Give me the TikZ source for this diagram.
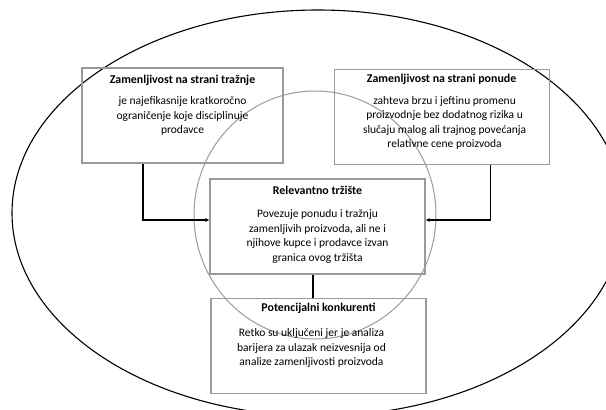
\documentclass[tikz,border=0pt]{standalone}
\usepackage{fontspec}
\setmainfont{Carlito}
\usetikzlibrary{arrows.meta,positioning,calc}
\definecolor{boxgray}{HTML}{9A9A9A}
\tikzset{
    semithick,
    box/.style ={draw=boxgray, line width=1.1pt, minimum width=215pt, minimum height=95pt, inner sep=0pt},
    ttl/.style ={font=\bfseries\fontsize{11.9}{13}\selectfont, anchor=base, inner sep=0pt},
    txt/.style ={font=\fontsize{11.5}{14.6}\selectfont, align=center, anchor=north, inner sep=0pt},
    conn/.style={line width=1.2pt, -{Latex[length=4pt,width=4pt]}}
}

\begin{document}
\begin{tikzpicture}[x=1pt,y=-1pt]
    \useasboundingbox (0,0) rectangle (606,410);
    \clip (0,0) rectangle (606,410);
    % outer market and relevant market
    \draw[line width=1.1pt] (318,213) ellipse [x radius=306, y radius=203];
    \draw[boxgray, line width=1pt] (315,215) ellipse [x radius=121, y radius=124];

    \node[box, minimum width=201pt] (trz) at (182.5,115.5) {};
    \node[box] (pon) [right =50pt of trz, yshift=-1.5pt] {};
    \node[box] (rel) at (317.5,226.5) {};
    \node[box] (pot) [below =23pt of rel, xshift=1pt] {};

    \node[ttl] (trzT) at ($(trz.north)+(0,16)$) {Zamenljivost na strani tražnje};
    \node[txt] (trzB) at ($(trzT.base)+(0,13)$) {je najefikasnije kratkoročno\\ograničenje koje disciplinuje\\prodavce};
    \node[ttl] (ponT) at ($(pon.north)+(0,14)$) {Zamenljivost na strani ponude};
    \node[txt] (ponB) at ($(ponT.base)+(3,13)$) {zahteva brzu i jeftinu promenu\\proizvodnje bez dodatnog rizika u\\slučaju malog ali trajnog povećanja\\relativne cene proizvoda};
    \node[ttl] (relT) at ($(rel.north)+(0,16)$) {Relevantno tržište};
    \node[txt] (relB) at ($(relT.base)+(0,15)$) {Povezuje ponudu i tražnju\\zamenljivih proizvoda, ali ne i\\njihove kupce i prodavce izvan\\granica ovog tržišta};
    \node[ttl] (potT) at ($(pot.north)+(0,14)$) {Potencijalni konkurenti};
    \node[txt] (potB) at ($(potT.base)+(-7,17)$) {Retko su uključeni jer je analiza\\barijera za ulazak neizvesnija od\\analize zamenljivosti proizvoda};

    \draw[conn] ([xshift=-39.5pt]trz.south) |- ([yshift=6.5pt]rel.west);
    \draw[conn] ([xshift=48.5pt]pon.south) |- ([yshift=6.5pt]rel.east);
    \draw[line width=1.2pt] ([xshift=-4.5pt]rel.south) -- ([xshift=-4.5pt]rel.south |- pot.north);
\end{tikzpicture}
\end{document}
